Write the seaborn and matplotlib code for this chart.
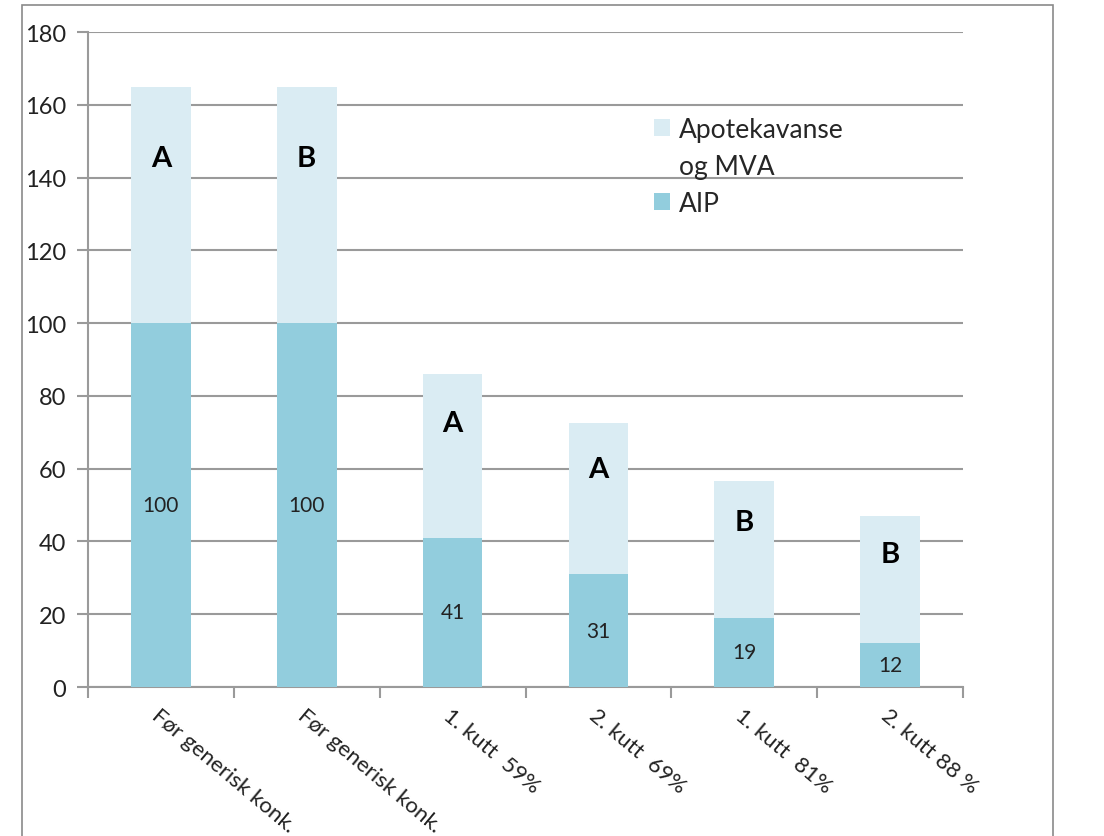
import matplotlib
matplotlib.use('Agg')
import matplotlib.pyplot as plt
import numpy as np
import pandas as pd
import seaborn as sns
from matplotlib.patches import Rectangle, Patch

# values
labels = ['Før generisk konk.', 'Før generisk konk.', '1. kutt  59%',
          '2. kutt  69%', '1. kutt  81%', '2. kutt 88 %']
aip = [100, 100, 41, 31, 19, 12]
total = [165, 165, 86, 72.5, 56.5, 47]
letters = ['A', 'B', 'A', 'A', 'B', 'B']

light = '#DAECF3'
dark = '#92CDDD'
grey = '#9A9A9A'

sns.set_theme(style='white')
plt.rcParams['font.family'] = ['Lato', 'DejaVu Sans']

df = pd.DataFrame({'pos': range(len(labels)), 'aip': aip, 'total': total})

fig = plt.figure(figsize=(11.04, 8.37), dpi=100)
ax = fig.add_axes([0.0797, 0.178, 0.7926, 0.7824])

sns.barplot(data=df, x='pos', y='total', color=light, saturation=1,
            width=0.41, linewidth=0, ax=ax, zorder=2)
sns.barplot(data=df, x='pos', y='aip', color=dark, saturation=1,
            width=0.41, linewidth=0, ax=ax, zorder=3)

ax.set_ylim(0, 180)
ax.set_xlim(-0.5, len(labels) - 0.5)
ax.set_yticks(np.arange(0, 181, 20))
ax.yaxis.grid(True, color=grey, lw=1.5, zorder=0)
ax.set_axisbelow(True)
ax.set_xlabel('')
ax.set_ylabel('')

for s in ['top', 'right']:
    ax.spines[s].set_visible(False)
for s in ['left', 'bottom']:
    ax.spines[s].set_color(grey)
    ax.spines[s].set_linewidth(1.5)

ax.set_xticks(range(len(labels)))
ax.set_xticklabels(labels, rotation=-40, ha='left', va='top',
                   rotation_mode='anchor', fontsize=16)
ax.set_xticks(np.arange(-0.5, len(labels), 1), minor=True)
ax.tick_params(axis='x', which='major', length=0, pad=13)
ax.tick_params(axis='x', which='minor', length=8, color=grey, width=1.5,
               direction='out', bottom=True)
ax.tick_params(axis='y', length=8, color=grey, width=1.5, direction='out',
               left=True, labelsize=17, pad=8)
for t in ax.get_xticklabels() + ax.get_yticklabels():
    t.set_color('#222222')

# value labels inside AIP segment and letters in the upper segment
for i, (a, t, l) in enumerate(zip(aip, total, letters)):
    ax.text(i, a / 2, str(a), ha='center', va='center', fontsize=15,
            color='#222222', zorder=5)
    ax.text(i, t - 0.3 * (t - a), l, ha='center', va='center', fontsize=21,
            fontweight='bold', color='black', zorder=5)

handles = [Patch(facecolor=light, edgecolor='none', label='Apotekavanse'),
           Patch(facecolor='none', edgecolor='none', label='og MVA'),
           Patch(facecolor=dark, edgecolor='none', label='AIP')]
ax.legend(handles=handles, loc='upper left', bbox_to_anchor=(0.62, 0.907),
          frameon=False, fontsize=19, handlelength=0.6, handleheight=0.6,
          handletextpad=0.35, labelspacing=0.45)

# outer chart frame
fig.patches.append(Rectangle((0.0199, -0.1), 0.934, 1.0928,
                             transform=fig.transFigure, fill=False,
                             edgecolor='#8A8A8A', lw=1.2))

fig.savefig('out.png', dpi=100)
